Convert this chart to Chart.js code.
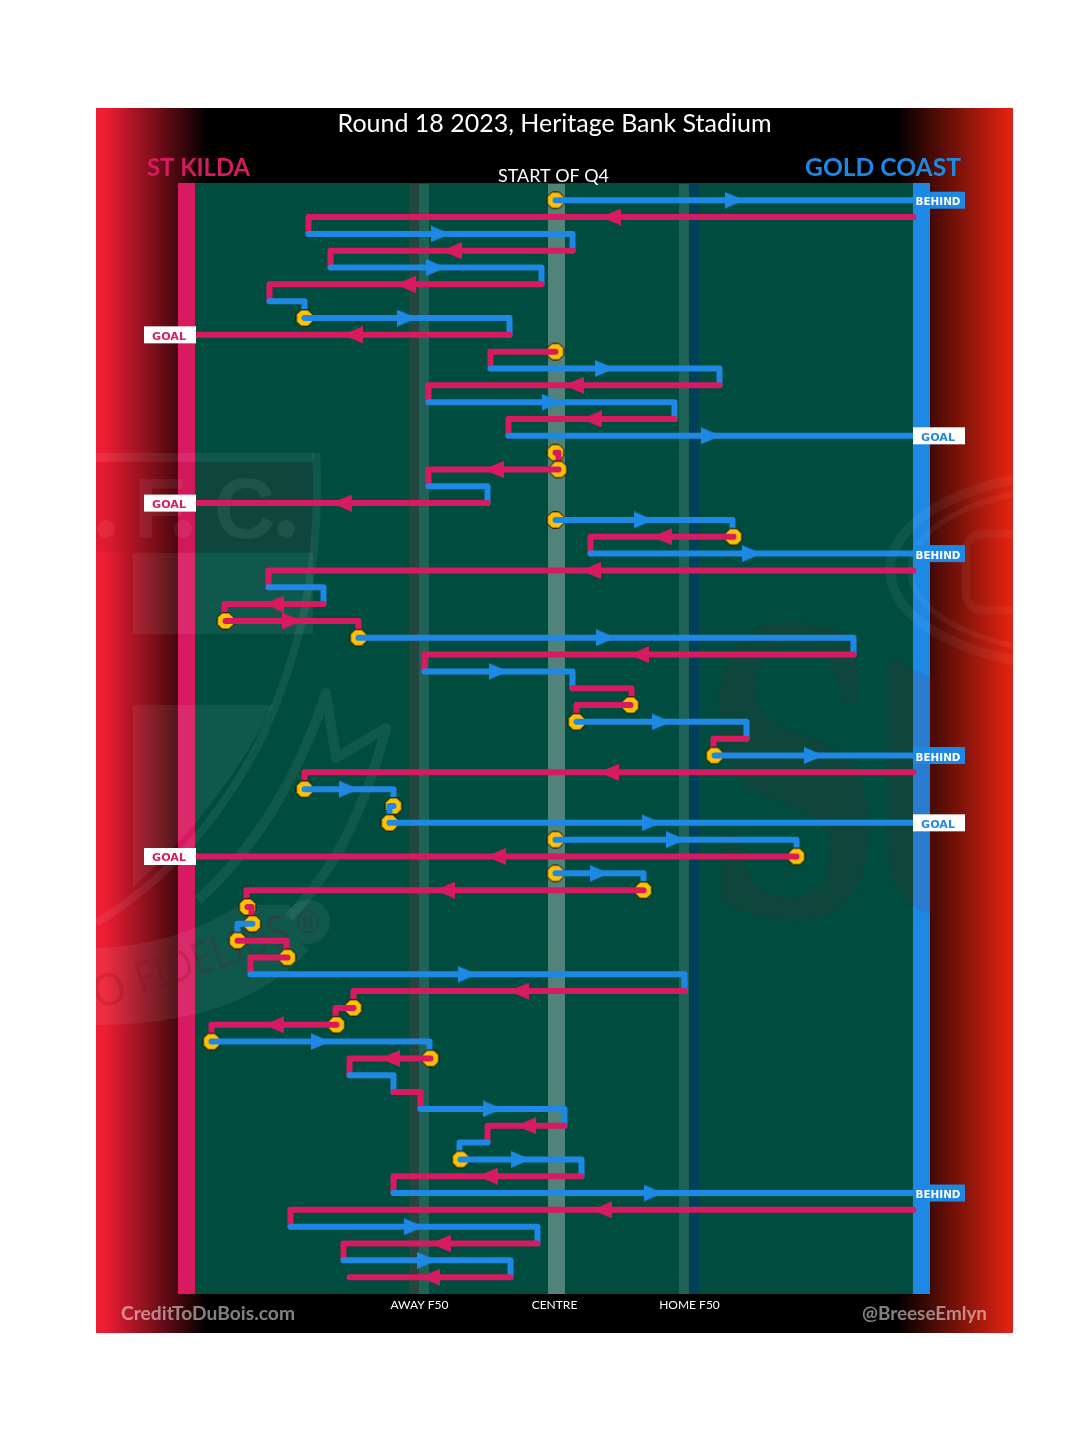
<!DOCTYPE html>
<html>
<head>
<meta charset="utf-8">
<style>
  html, body { margin: 0; padding: 0; background: #fff; }
  canvas { display: block; }
</style>
<script src="https://cdn.jsdelivr.net/npm/chart.js@4/dist/chart.umd.min.js"></script>
</head>
<body>
<canvas id="chart" width="1080" height="1455"></canvas>
<script>
// field position of each kick, 0 = centre, -359 = away goal, 359 = home goal
const starts = [1, 359, -246, 18, -224, -13, -285, -250, -45, 1, -64, 165, -126, 120, -46, 1, 4, -126, -67, 1,
  179, 36, 359, -286, -231, -329, -196, 299, -130, 18, 76, 22, 192, 160, 359, -250, -161, -165, 1, 242,
  1, 89, -307, -302, -317, -267, -304, 130, -201, -218, -343, -124, -205, -161, -134, 10, -67, -94, 27, -161,
  359, -264, -17, -211, -44];
const ends = [359, -246, 18, -224, -13, -285, -250, -45, -359, -64, 165, -126, 120, -46, 359, 4, -126, -67, -359, 178,
  36, 359, -286, -231, -330, -196, 299, -130, 18, 77, 22, 192, 159, 359, -250, -161, -165, 359, 242, -359,
  89, -308, -303, -317, -268, -304, 130, -201, -219, -343, -125, -205, -161, -134, 10, -67, -95, 27, -161, 359,
  -264, -17, -211, -44, -205];
const teams = 'GSGSGSGGSSGSGSGSSGSGSGSGSSGSGSSGSGSGGGGSGSSGSSGSSSGSGSGSGGSGSGSGS'.split('');

const dotRows = [0, 7, 9, 15, 16, 19, 20, 25, 26, 30, 31, 33, 35, 36, 37, 38, 39, 40, 41, 42, 43, 44, 45, 48, 49, 50, 51, 57];
const goalRows = [8, 14, 18, 37, 39];
const behindRows = [0, 21, 33, 59];

const tickValues = [-135, 0, 135];
const tickLabels = ['AWAY F50', 'CENTRE', 'HOME F50'];

const PINK = '#D81B60', BLUE = '#1E88E5', GREEN = '#004D40', AMBER = '#FFC107';
const colourOf = t => t === 'S' ? PINK : BLUE;
const lastRow = starts.length - 1;

function makeArrow(colour, left) {
  const c = document.createElement('canvas');
  c.width = 20; c.height = 17;
  const g = c.getContext('2d');
  g.fillStyle = colour;
  g.beginPath();
  if (left) { g.moveTo(0, 8.5); g.lineTo(20, 0); g.lineTo(20, 17); }
  else { g.moveTo(20, 8.5); g.lineTo(0, 0); g.lineTo(0, 17); }
  g.fill();
  return c;
}

function makeDot() {
  const c = document.createElement('canvas');
  c.width = 20; c.height = 20;
  const g = c.getContext('2d');
  const r = 8.2, k = r * 0.42;
  g.beginPath();
  [[k, -r], [r, -k], [r, k], [k, r], [-k, r], [-r, k], [-r, -k], [-k, -r]].forEach(p => g.lineTo(10 + p[0], 10 + p[1]));
  g.closePath();
  g.fillStyle = AMBER;
  g.fill();
  g.strokeStyle = '#000';
  g.lineWidth = 1;
  g.stroke();
  return c;
}

const arrows = { S: makeArrow(PINK, true), G: makeArrow(BLUE, false) };
arrows.SR = makeArrow(PINK, false);
arrows.GL = makeArrow(BLUE, true);
const dotImg = makeDot();

const datasets = [];
starts.forEach((s, i) => {
  const pts = [{ x: s, y: i }, { x: ends[i], y: i }];
  const scored = goalRows.includes(i) || behindRows.includes(i);
  if (!scored && i < lastRow) pts.push({ x: ends[i], y: i + 1 });
  datasets.push({
    type: 'line', data: pts, borderColor: colourOf(teams[i]), borderWidth: 6,
    borderCapStyle: 'round', borderJoinStyle: 'round', pointRadius: 0, tension: 0,
    clip: false, order: 1000 - 2 * i,
  });
});
dotRows.forEach(i => {
  datasets.push({
    type: 'scatter', data: [{ x: starts[i], y: i }], pointStyle: dotImg, pointRadius: 9,
    clip: false, order: 1001 - 2 * i,
  });
});
starts.forEach((s, i) => {
  if (Math.abs(ends[i] - s) < 70) return;
  const goingRight = ends[i] > s;
  const key = teams[i] === 'S' ? (goingRight ? 'SR' : 'S') : (goingRight ? 'G' : 'GL');
  datasets.push({
    type: 'scatter', data: [{ x: (s + ends[i]) / 2, y: i }], pointStyle: arrows[key], pointRadius: 9,
    clip: false, order: -1,
  });
});

function fitText(ctx, text, cx, y, w, font, colour) {
  ctx.save();
  ctx.font = font;
  ctx.fillStyle = colour;
  ctx.textAlign = 'center';
  ctx.textBaseline = 'alphabetic';
  ctx.translate(cx, y);
  ctx.scale(w / ctx.measureText(text).width, 1);
  ctx.fillText(text, 0, 0);
  ctx.restore();
}

function band(ctx, pts, width, colour) {
  ctx.beginPath();
  pts.forEach((p, i) => {
    if (i === 0) ctx.moveTo(p[0], p[1]);
    else if (p.length === 4) ctx.quadraticCurveTo(p[0], p[1], p[2], p[3]);
    else ctx.lineTo(p[0], p[1]);
  });
  ctx.lineWidth = width;
  ctx.strokeStyle = colour;
  ctx.lineJoin = 'round';
  ctx.stroke();
}

function drawWatermarks(ctx) {
  const LIGHT = 'rgba(255,255,255,.065)';
  const DARK = 'rgba(150,10,30,.1)';
  ctx.save();
  ctx.beginPath();
  ctx.rect(96, 183, 917, 1111);
  ctx.clip();

  // crest on the left
  ctx.fillStyle = LIGHT;
  ctx.fillRect(96, 453, 217, 9);
  ctx.fillStyle = DARK;
  ctx.fillRect(96, 462, 217, 90);
  ctx.fillStyle = LIGHT;
  ctx.fillRect(133, 553, 180, 81);
  ctx.beginPath();
  ctx.moveTo(133, 705);
  ctx.lineTo(273, 705);
  ctx.quadraticCurveTo(220, 810, 133, 887);
  ctx.closePath();
  ctx.fill();
  ctx.font = 'bold 85px "Liberation Sans"';
  ctx.textAlign = 'left';
  ctx.textBaseline = 'alphabetic';
  ctx.fillText('F', 134, 538);
  ctx.fillText('C', 214, 538);
  [[106, 529], [183, 529], [286, 529]].forEach(p => {
    ctx.beginPath();
    ctx.arc(p[0], p[1], 9, 0, Math.PI * 2);
    ctx.fill();
  });
  band(ctx, [[316, 453], [325, 600, 262, 737], [200, 860, 96, 923]], 8, LIGHT);
  band(ctx, [[198, 900], [283, 823, 326, 693], [336, 758], [386, 728], [355, 850, 289, 917]], 10, LIGHT);
  ctx.beginPath();
  ctx.moveTo(96, 948);
  ctx.quadraticCurveTo(178, 945, 240, 905);
  ctx.lineTo(286, 905);
  ctx.arc(308, 922, 22, -2.4, 2.0);
  ctx.lineTo(309, 950);
  ctx.quadraticCurveTo(240, 1025, 96, 1025);
  ctx.closePath();
  ctx.fillStyle = LIGHT;
  ctx.fill();
  ctx.fillStyle = 'rgba(120,10,30,.2)';
  ctx.save();
  ctx.translate(141, 995);
  ctx.rotate(-0.33);
  ctx.font = '44px "Noto Sans"';
  ctx.textAlign = 'right';
  ctx.fillText('JO ', 0, 0);
  ctx.textAlign = 'left';
  ctx.scale(0.85, 1);
  ctx.fillText('FIDELIUS', 0, 0);
  ctx.restore();
  ctx.font = '30px "Noto Sans"';
  ctx.textAlign = 'center';
  ctx.fillText('\u00AE', 308, 933);

  // rings on the right
  ctx.beginPath();
  ctx.ellipse(1090, 570, 200, 98, 0, 0, Math.PI * 2);
  ctx.lineWidth = 10;
  ctx.strokeStyle = 'rgba(255,255,255,.05)';
  ctx.stroke();
  ctx.beginPath();
  ctx.ellipse(1090, 570, 180, 84, 0, 0, Math.PI * 2);
  ctx.lineWidth = 6;
  ctx.stroke();
  ctx.lineWidth = 8;
  ctx.beginPath();
  ctx.roundRect(966, 534, 90, 76, 16);
  ctx.stroke();

  // big letters in the middle
  ctx.fillStyle = DARK;
  ctx.save();
  ctx.translate(793, 915);
  ctx.scale(0.64, 1);
  ctx.font = 'bold 395px "DejaVu Serif"';
  ctx.textAlign = 'center';
  ctx.fillText('S', 0, 0);
  ctx.restore();
  ctx.beginPath();
  ctx.moveTo(888, 657);
  ctx.lineTo(935, 680);
  ctx.lineTo(935, 915);
  ctx.quadraticCurveTo(888, 905, 888, 850);
  ctx.closePath();
  ctx.fill();
  ctx.restore();
}

const panelPlugin = {
  id: 'panel',
  beforeDraw(chart) {
    const ctx = chart.ctx;
    const x = chart.scales.x;
    const px = v => Math.floor(x.getPixelForValue(v));
    ctx.save();
    ctx.fillStyle = '#000';
    ctx.fillRect(96, 108, 917, 1225);
    let g = ctx.createLinearGradient(96, 0, 207, 0);
    g.addColorStop(0, '#EE1D33');
    g.addColorStop(0.08, '#EE1D33');
    g.addColorStop(1, '#000');
    ctx.fillStyle = g;
    ctx.fillRect(96, 108, 111, 1225);
    g = ctx.createLinearGradient(897, 0, 1013, 0);
    g.addColorStop(0, '#000');
    g.addColorStop(0.96, '#DE2210');
    g.addColorStop(1, '#DE2210');
    ctx.fillStyle = g;
    ctx.fillRect(897, 108, 116, 1225);

    const top = 183, h = 1111;
    ctx.fillStyle = GREEN;
    ctx.fillRect(195, top, 718, h);
    ctx.fillStyle = PINK;
    ctx.fillRect(178, top, 17, h);
    ctx.fillStyle = BLUE;
    ctx.fillRect(913, top, 17, h);

    [[-145, -135, '#23473F'], [-135, -125, '#1F6358'], [-6, 11, '#51837A'], [125, 135, '#1F6358'], [135, 145, '#004058']].forEach(b => {
      ctx.fillStyle = b[2];
      ctx.fillRect(px(b[0]), top + 1, px(b[1]) - px(b[0]), h - 1);
    });
    drawWatermarks(ctx);

    fitText(ctx, 'ST KILDA', 198.5, 176, 103, 'bold 24px Lato', PINK);
    fitText(ctx, 'GOLD COAST', 883, 176, 156, 'bold 24px Lato', BLUE);
    fitText(ctx, 'START OF Q4', 553.5, 182, 111, '18px Lato', '#fff');
    fitText(ctx, 'CreditToDuBois.com', 208, 1320, 174, 'bold 18px Lato', 'rgba(255,255,255,.5)');
    fitText(ctx, '@BreeseEmlyn', 924.5, 1320, 125, 'bold 18px Lato', 'rgba(255,255,255,.5)');
    ctx.restore();
  },
  afterDatasetsDraw(chart) {
    const ctx = chart.ctx;
    const y = chart.scales.y;
    const tag = (row, left, box, ink, word, w) => {
      const py = y.getPixelForValue(row);
      const bx = left ? 144 : 913;
      ctx.fillStyle = box;
      ctx.fillRect(bx, py - 8.5, 52, 17);
      fitText(ctx, word, bx + 25, py + 5, w, 'bold 10px "DejaVu Sans"', ink);
    };
    ctx.save();
    goalRows.forEach(r => {
      const left = teams[r] === 'S';
      tag(r, left, '#fff', colourOf(teams[r]), 'GOAL', 34);
    });
    behindRows.forEach(r => tag(r, false, BLUE, '#fff', 'BEHIND', 45));
    ctx.restore();
  },
};

new Chart(document.getElementById('chart'), {
  data: { datasets },
  plugins: [panelPlugin],
  options: {
    responsive: false,
    animation: false,
    devicePixelRatio: 1,
    layout: { padding: { left: 195.5, right: 166.5, top: 108, bottom: 139 } },
    events: [],
    plugins: {
      legend: { display: false },
      tooltip: { enabled: false },
      title: {
        display: true,
        text: 'Round 18 2023, Heritage Bank Stadium',
        color: '#fff',
        font: { family: 'Lato', size: 25, weight: 'normal', lineHeight: '30px' },
        padding: { top: 1, bottom: 44.4 },
      },
    },
    scales: {
      x: {
        type: 'linear', min: -359, max: 359,
        grid: { display: false, drawTicks: false }, border: { display: false },
        afterBuildTicks(scale) { scale.ticks = tickValues.map(value => ({ value })); },
        afterFit(scale) { scale.height = 22; },
        ticks: {
          color: '#fff', padding: 4, maxRotation: 0, autoSkip: false,
          font: { family: 'Lato', size: 12 },
          callback: v => tickLabels[tickValues.indexOf(v)],
        },
      },
      y: { type: 'linear', min: -1, max: 65, reverse: true, display: false },
    },
  },
});
</script>
</body>
</html>
